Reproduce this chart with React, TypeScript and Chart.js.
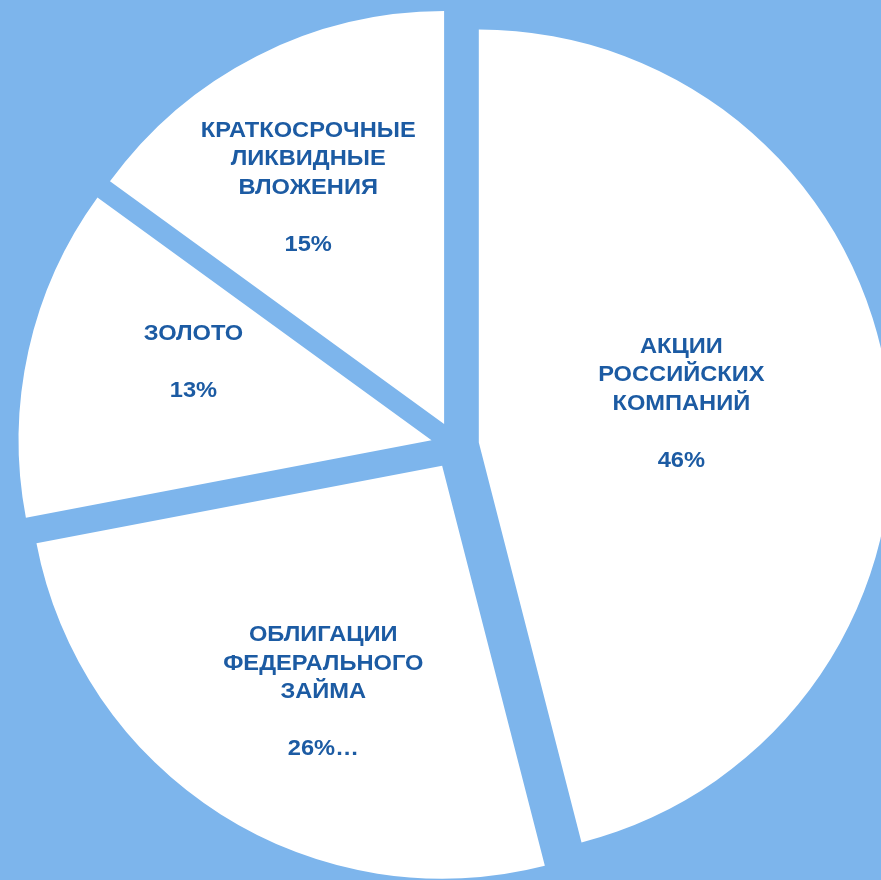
import React, { useEffect, useRef } from "react";
import { Chart, registerables } from "chart.js";

Chart.register(...registerables);

// ---- data ----
const categoryLines: string[][] = [
  ["АКЦИИ", "РОССИЙСКИХ", "КОМПАНИЙ"],
  ["ОБЛИГАЦИИ", "ФЕДЕРАЛЬНОГО", "ЗАЙМА"],
  ["ЗОЛОТО"],
  ["КРАТКОСРОЧНЫЕ", "ЛИКВИДНЫЕ", "ВЛОЖЕНИЯ"],
];
const shares: number[] = [46, 26, 13, 15];
const percentSuffixes: string[] = ["", "…", "", ""];

// ---- layout / style ----
const BG = "#7DB5EC";
const SLICE = "#FFFFFF";
const TEXT = "#1C5BA3";
const EXPLODE = 24;
const LINE_H = 28.6;
const TEXT_DY = 2;
const TEXT_SX = 1.075;
const FONT = 'bold 22px "Liberation Sans", Arial, sans-serif';
// label anchor: fraction of radius from slice apex, and angular shift (deg, clockwise)
const labelRadiusFrac = [0.5, 0.615, 0.608, 0.664];
const labelAngleShift = [-4.1, -4.5, 5.9, -2.7];

const explodePlugin = {
  id: "explode",
  beforeDatasetDraw(chart: any, args: any) {
    const ctx = chart.ctx;
    args.meta.data.forEach((arc: any) => {
      const half = (arc.startAngle + arc.endAngle) / 2;
      ctx.save();
      ctx.translate(Math.cos(half) * EXPLODE, Math.sin(half) * EXPLODE);
      arc.draw(ctx, chart.chartArea);
      ctx.restore();
    });
    return false;
  },
};

const labelPlugin = {
  id: "sliceLabels",
  afterDatasetsDraw(chart: any) {
    const ctx = chart.ctx;
    const meta = chart.getDatasetMeta(0);
    const values: number[] = chart.data.datasets[0].data;
    const total = values.reduce((a, b) => a + b, 0);
    ctx.save();
    ctx.font = FONT;
    ctx.fillStyle = TEXT;
    ctx.textAlign = "center";
    ctx.textBaseline = "middle";
    meta.data.forEach((arc: any, i: number) => {
      const half = (arc.startAngle + arc.endAngle) / 2;
      const ax = arc.x + Math.cos(half) * EXPLODE;
      const ay = arc.y + Math.sin(half) * EXPLODE;
      const ang = half + (labelAngleShift[i] * Math.PI) / 180;
      const r = arc.outerRadius * labelRadiusFrac[i];
      const cx = ax + Math.cos(ang) * r;
      const cy = ay + Math.sin(ang) * r + TEXT_DY;
      const pct = Math.round((values[i] / total) * 100) + "%" + percentSuffixes[i];
      const lines = [...categoryLines[i], "", pct];
      const n = lines.length;
      lines.forEach((t, j) => {
        if (!t) return;
        ctx.save();
        ctx.translate(cx, cy + (j - (n - 1) / 2) * LINE_H);
        ctx.scale(TEXT_SX, 1);
        ctx.fillText(t, 0, 0);
        ctx.restore();
      });
    });
    ctx.restore();
  },
};

export default function App() {
  const ref = useRef<HTMLCanvasElement | null>(null);
  useEffect(() => {
    if (!ref.current) return;
    const chart = new Chart(ref.current, {
      type: "pie",
      data: {
        labels: categoryLines.map((l) => l.join(" ")),
        datasets: [
          {
            data: shares,
            backgroundColor: SLICE,
            borderWidth: 0,
          },
        ],
      },
      options: {
        responsive: false,
        animation: false,
        radius: 413,
        layout: { padding: { left: 29, top: 11, right: 0, bottom: 0 } },
        plugins: { legend: { display: false }, tooltip: { enabled: false } },
      } as any,
      plugins: [explodePlugin, labelPlugin],
    });
    return () => chart.destroy();
  }, []);
  return (
    <div
      style={{
        position: "fixed",
        left: 0,
        top: 0,
        width: 881,
        height: 880,
        background: BG,
        overflow: "hidden",
      }}
    >
      <canvas ref={ref} width={881} height={880} style={{ display: "block" }} />
    </div>
  );
}
